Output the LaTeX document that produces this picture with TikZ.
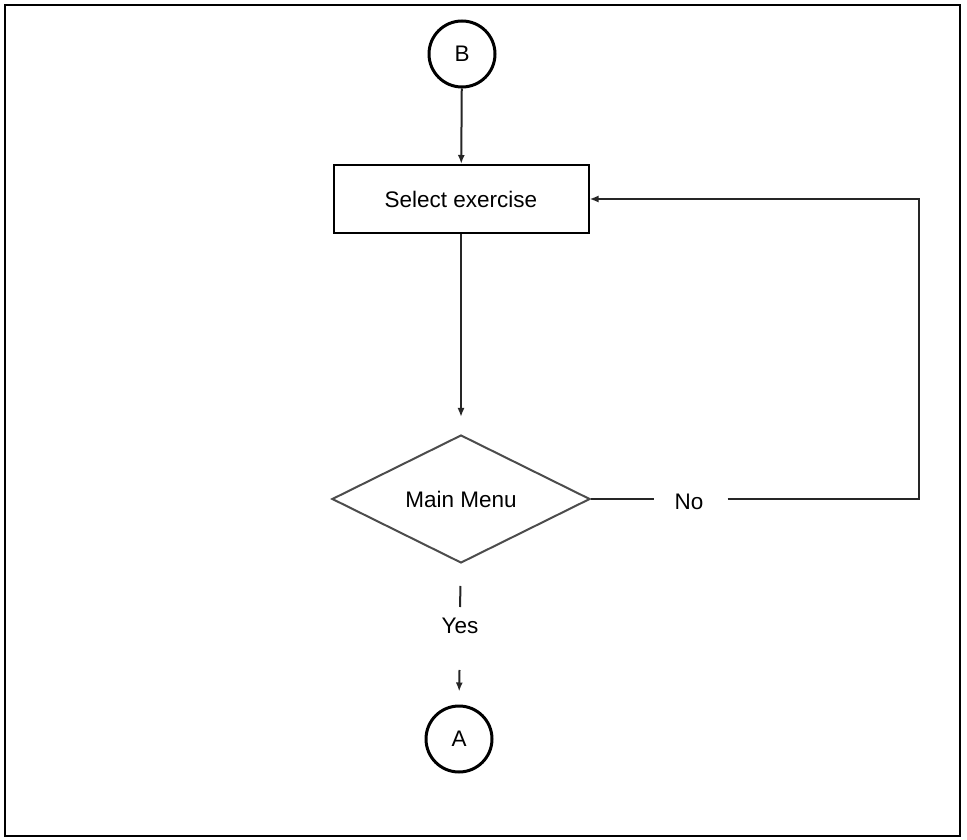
\documentclass[tikz,border=0pt]{standalone}
\usepackage{fontspec}
\setmainfont{Liberation Sans}
\usetikzlibrary{shapes.geometric,arrows.meta}
\begin{document}
\begin{tikzpicture}[x=1pt,y=-1pt,
  every node/.style={font=\fontsize{22.5}{26}\selectfont},
  conn/.style={line width=2pt,black!85},
  arr/.style={conn,-{Latex[length=9pt,width=7pt]}},
  connector/.style={circle,draw,line width=3pt,minimum size=66pt,inner sep=0pt},
  procbox/.style={rectangle,draw,line width=2pt,minimum width=255pt,minimum height=68pt},
  decision/.style={diamond,draw=black!70,line width=2pt,minimum width=258pt,minimum height=128pt,aspect=2,inner sep=0pt}]
\useasboundingbox (0,0) rectangle (967,840);
\draw[line width=2.2pt] (5,5) rectangle (960,836);
\node[connector] (B) at (462,54) {B};
\node[procbox] (sel) at (461,199) {Select exercise};
\node[decision] (dia) at (461,499) {Main Menu};
\node[inner sep=0pt] (no) at (689,502) {No};
\node[inner sep=0pt] (yes) at (460,626) {Yes};
\node[connector] (A) at (459,739) {A};
\coordinate (c1) at (919,499);
\draw[arr] (B) -- (sel);
\draw[arr,shorten >=17pt] (sel) -- (dia);
\draw[conn] (dia.east) -- ++(63,0);
\draw[arr] (no.east) ++(24,-3) -- (c1) |- (sel.east);
\draw[conn,shorten <=22pt] (dia.south) -- (460,607);
\draw[arr,shorten <=34pt,shorten >=13pt] (yes.south |- 0,636) -- (A.north);
\end{tikzpicture}
\end{document}
